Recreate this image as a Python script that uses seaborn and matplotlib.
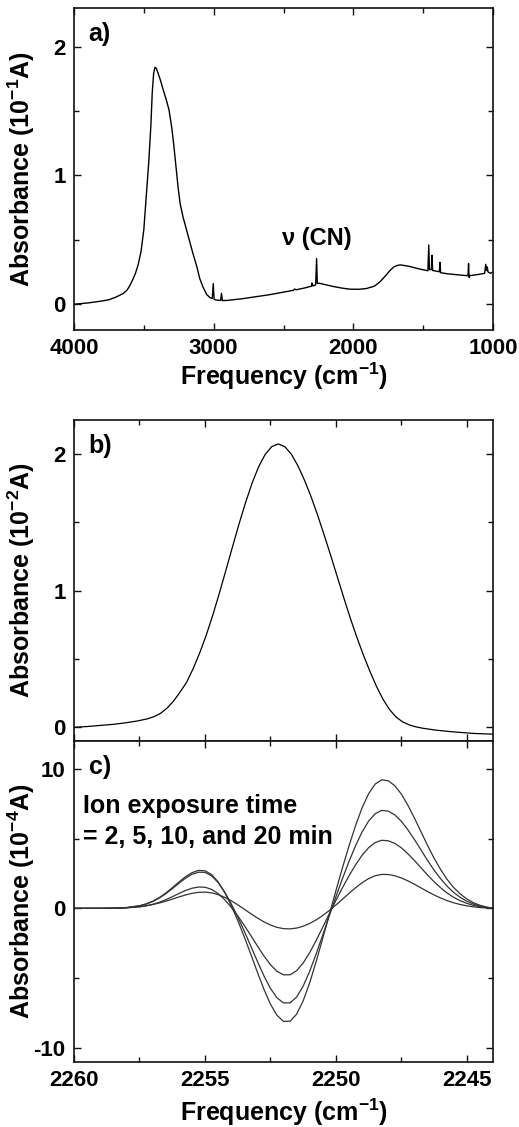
import matplotlib
matplotlib.use("Agg")
import numpy as np
import pandas as pd
import matplotlib.pyplot as plt
import seaborn as sns
from matplotlib.ticker import MultipleLocator

# --- data ---
# a) full IR spectrum, absorbance in 1e-1 A
freq_a = [4000, 3900, 3800, 3750, 3700, 3650, 3620, 3600, 3580, 3560, 3540, 3520, 3500, 3480,
          3465, 3450, 3440, 3430, 3420, 3410, 3400, 3380, 3360, 3340, 3320, 3300,
          3285, 3270, 3255, 3240, 3220, 3200, 3180, 3150, 3120, 3100, 3075, 3050,
          3025, 3010, 3003, 2997, 2980, 2950, 2944, 2938, 2900, 2800, 2700, 2600,
          2500, 2430, 2420, 2410, 2350, 2300, 2296, 2290, 2270, 2263, 2258, 2245,
          2200, 2145, 2080, 2026, 1960, 1906, 1850, 1811, 1770, 1739, 1710, 1680,
          1660, 1620, 1596, 1525, 1466, 1460, 1455, 1441, 1437, 1432, 1412, 1384,
          1380, 1375, 1330, 1286, 1200, 1179, 1175, 1171, 1165, 1100, 1060, 1052,
          1047, 1041, 1036, 1020, 1000]
abs_a = [0.000, 0.010, 0.025, 0.035, 0.055, 0.082, 0.110, 0.145, 0.190, 0.240, 0.310, 0.410, 0.580, 0.880,
         1.100, 1.380, 1.640, 1.790, 1.840, 1.830, 1.800, 1.735, 1.660, 1.590, 1.510, 1.370,
         1.230, 1.070, 0.910, 0.780, 0.680, 0.600, 0.520, 0.400, 0.290, 0.200, 0.130, 0.075,
         0.050, 0.045, 0.160, 0.038, 0.032, 0.030, 0.085, 0.028, 0.030, 0.042, 0.058, 0.074,
         0.094, 0.108, 0.118, 0.112, 0.126, 0.140, 0.165, 0.142, 0.150, 0.355, 0.162, 0.163,
         0.152, 0.138, 0.125, 0.117, 0.116, 0.122, 0.140, 0.172, 0.220, 0.260, 0.290, 0.303,
         0.305, 0.298, 0.293, 0.273, 0.260, 0.460, 0.268, 0.270, 0.380, 0.262, 0.258, 0.252,
         0.325, 0.245, 0.237, 0.232, 0.223, 0.222, 0.316, 0.208, 0.222, 0.232, 0.240, 0.310,
         0.262, 0.290, 0.252, 0.240, 0.250]

# b) CN band, absorbance in 1e-2 A
freq_b = [2260.0, 2259.5, 2259.0, 2258.5, 2258.0, 2257.6, 2257.2, 2256.95, 2256.7, 2256.45,
          2256.2, 2255.95, 2255.7, 2255.45, 2255.2, 2254.95, 2254.7, 2254.45, 2254.2, 2253.95,
          2253.7, 2253.45, 2253.2, 2252.95, 2252.7, 2252.45, 2252.2, 2251.95, 2251.7, 2251.45,
          2251.2, 2250.95, 2250.7, 2250.45, 2250.2, 2249.95, 2249.7, 2249.45, 2249.2, 2248.95,
          2248.7, 2248.45, 2248.2, 2247.95, 2247.7, 2247.45, 2247.2, 2246.95, 2246.7, 2246.2,
          2245.7, 2245.2, 2244.7, 2244.0]
abs_b = [0.000, 0.006, 0.014, 0.022, 0.034, 0.046, 0.062, 0.078, 0.102, 0.140,
         0.192, 0.258, 0.330, 0.430, 0.545, 0.675, 0.822, 0.982, 1.150, 1.320,
         1.488, 1.645, 1.788, 1.908, 1.998, 2.055, 2.075, 2.055, 2.000, 1.915,
         1.810, 1.690, 1.555, 1.410, 1.260, 1.105, 0.950, 0.800, 0.660, 0.530,
         0.410, 0.300, 0.205, 0.130, 0.075, 0.040, 0.018, 0.004, -0.006, -0.020,
         -0.030, -0.038, -0.045, -0.050]

# c) difference spectra, absorbance in 1e-4 A
freq_c = [2260, 2259.5, 2259, 2258.5, 2258, 2257.5, 2257.25, 2257, 2256.75, 2256.5,
          2256.25, 2256, 2255.75, 2255.5, 2255.25, 2255, 2254.75, 2254.5, 2254.25, 2254,
          2253.75, 2253.5, 2253.25, 2253, 2252.75, 2252.5, 2252.25, 2252, 2251.75, 2251.5,
          2251.25, 2251, 2250.75, 2250.5, 2250.25, 2250, 2249.75, 2249.5, 2249.25, 2249,
          2248.75, 2248.5, 2248.25, 2248, 2247.75, 2247.5, 2247.25, 2247, 2246.75, 2246.5,
          2246.25, 2246, 2245.75, 2245.5, 2245.25, 2245, 2244.75, 2244.5, 2244.25, 2244]
abs_c_2min = [0.000, 0.001, 0.004, 0.014, 0.044, 0.119, 0.183, 0.269, 0.380, 0.511,
              0.659, 0.812, 0.956, 1.073, 1.147, 1.164, 1.111, 0.989, 0.798, 0.549,
              0.257, -0.060, -0.382, -0.689, -0.967, -1.194, -1.362, -1.454, -1.474, -1.415,
              -1.283, -1.084, -0.822, -0.510, -0.153, 0.240, 0.652, 1.071, 1.476, 1.838,
              2.133, 2.337, 2.435, 2.426, 2.338, 2.182, 1.971, 1.728, 1.467, 1.205,
              0.961, 0.743, 0.553, 0.398, 0.274, 0.180, 0.109, 0.059, 0.025, 0.000]
abs_c_5min = [0.000, 0.000, 0.001, 0.007, 0.031, 0.105, 0.178, 0.285, 0.432, 0.616,
              0.831, 1.058, 1.273, 1.439, 1.530, 1.516, 1.364, 1.062, 0.629, 0.092,
              -0.528, -1.213, -1.942, -2.687, -3.408, -4.037, -4.510, -4.768, -4.764, -4.475,
              -3.924, -3.175, -2.290, -1.345, -0.379, 0.565, 1.472, 2.328, 3.116, 3.803,
              4.348, 4.718, 4.881, 4.845, 4.658, 4.341, 3.915, 3.430, 2.911, 2.391,
              1.906, 1.475, 1.098, 0.789, 0.544, 0.358, 0.216, 0.118, 0.049, 0.000]
abs_c_10min = [0.000, 0.000, 0.002, 0.012, 0.052, 0.177, 0.300, 0.481, 0.729, 1.039,
               1.402, 1.787, 2.150, 2.434, 2.593, 2.580, 2.340, 1.862, 1.181, 0.345,
               -0.603, -1.630, -2.705, -3.791, -4.831, -5.736, -6.413, -6.782, -6.777, -6.365,
               -5.579, -4.512, -3.251, -1.901, -0.521, 0.828, 2.128, 3.356, 4.486, 5.474,
               6.257, 6.788, 7.024, 6.972, 6.702, 6.246, 5.633, 4.935, 4.188, 3.440,
               2.742, 2.122, 1.579, 1.135, 0.783, 0.515, 0.310, 0.169, 0.071, 0.000]
abs_c_20min = [0.000, 0.000, 0.002, 0.013, 0.055, 0.187, 0.315, 0.506, 0.767, 1.092,
               1.475, 1.879, 2.259, 2.556, 2.720, 2.697, 2.431, 1.904, 1.150, 0.216,
               -0.856, -2.036, -3.287, -4.562, -5.792, -6.864, -7.669, -8.105, -8.093, -7.593,
               -6.638, -5.340, -3.801, -2.143, -0.431, 1.257, 2.901, 4.469, 5.925, 7.202,
               8.219, 8.912, 9.218, 9.148, 8.793, 8.196, 7.391, 6.475, 5.495, 4.514,
               3.598, 2.784, 2.072, 1.489, 1.027, 0.675, 0.407, 0.222, 0.093, 0.000]
exposure_min = [2, 5, 10, 20]

# --- style ---
sns.set_style("ticks")
plt.rcParams['font.family'] = ['Liberation Sans', 'DejaVu Sans']
plt.rcParams['font.weight'] = 'bold'
plt.rcParams['axes.labelweight'] = 'bold'
plt.rcParams['axes.unicode_minus'] = False
plt.rcParams['text.color'] = 'black'
plt.rcParams['axes.labelcolor'] = 'black'
plt.rcParams['xtick.color'] = 'black'
plt.rcParams['ytick.color'] = 'black'
plt.rcParams['mathtext.fontset'] = 'custom'
plt.rcParams['mathtext.rm'] = 'Liberation Sans:bold'
plt.rcParams['mathtext.bf'] = 'Liberation Sans:bold'
plt.rcParams['mathtext.default'] = 'bf'

LABEL_FS = 18
TICK_FS = 16


def style_axes(ax):
    for sp in ax.spines.values():
        sp.set_visible(True)
        sp.set_linewidth(1.2)
        sp.set_color('#111111')
    ax.tick_params(axis='both', which='both', direction='in', top=True, right=True,
                   color='#111111', labelcolor='black', width=1.0)
    ax.tick_params(axis='both', which='major', length=5, labelsize=TICK_FS, pad=6)
    ax.tick_params(axis='both', which='minor', length=3.5)
    for lab in ax.get_xticklabels() + ax.get_yticklabels():
        lab.set_fontweight('bold')


fig = plt.figure(figsize=(5.19, 11.27), dpi=100)
ax_a = fig.add_axes([0.1426, 0.7072, 0.8073, 0.2857])
ax_b = fig.add_axes([0.1426, 0.3425, 0.8073, 0.2848])
ax_c = fig.add_axes([0.1426, 0.0579, 0.8073, 0.2846])

# panel a
df_a = pd.DataFrame({'freq': freq_a, 'absorb': abs_a})
sns.lineplot(data=df_a, x='freq', y='absorb', ax=ax_a, color='black', linewidth=1.0, sort=False)
ax_a.set_xlim(4000, 1000)
ax_a.set_ylim(-0.2, 2.3)
ax_a.xaxis.set_major_locator(MultipleLocator(1000))
ax_a.xaxis.set_minor_locator(MultipleLocator(500))
ax_a.yaxis.set_major_locator(MultipleLocator(1))
ax_a.yaxis.set_minor_locator(MultipleLocator(0.5))
ax_a.set_xlabel('Frequency (cm$^{-1}$)', fontsize=LABEL_FS, labelpad=1)
ax_a.set_ylabel('Absorbance (10$^{-1}$A)', fontsize=LABEL_FS)
ax_a.text(0.035, 0.955, 'a)', transform=ax_a.transAxes, fontsize=LABEL_FS,
          fontweight='bold', va='top', ha='left')
ax_a.text(2260, 0.42, 'ν (CN)', fontsize=17, fontweight='bold', ha='center', va='bottom')
style_axes(ax_a)

# panel b
df_b = pd.DataFrame({'freq': freq_b, 'absorb': abs_b})
sns.lineplot(data=df_b, x='freq', y='absorb', ax=ax_b, color='black', linewidth=0.9, sort=False)
ax_b.set_xlim(2260, 2244)
ax_b.set_ylim(-0.1, 2.25)
ax_b.xaxis.set_major_locator(MultipleLocator(5))
ax_b.xaxis.set_minor_locator(MultipleLocator(2.5))
ax_b.yaxis.set_major_locator(MultipleLocator(1))
ax_b.yaxis.set_minor_locator(MultipleLocator(0.5))
ax_b.set_xlabel('')
ax_b.set_ylabel('Absorbance (10$^{-2}$A)', fontsize=LABEL_FS)
ax_b.text(0.035, 0.955, 'b)', transform=ax_b.transAxes, fontsize=LABEL_FS,
          fontweight='bold', va='top', ha='left')
style_axes(ax_b)
ax_b.tick_params(axis='x', which='both', labelbottom=False)

# panel c
rows = []
for minutes, vals in zip(exposure_min, [abs_c_2min, abs_c_5min, abs_c_10min, abs_c_20min]):
    for f, v in zip(freq_c, vals):
        rows.append({'freq': f, 'absorb': v, 'minutes': minutes})
df_c = pd.DataFrame(rows)
sns.lineplot(data=df_c, x='freq', y='absorb', hue='minutes', ax=ax_c,
             palette=['#333333'] * 4, linewidth=0.9, legend=False, sort=False)
ax_c.set_xlim(2260, 2244)
ax_c.set_ylim(-11, 12)
ax_c.xaxis.set_major_locator(MultipleLocator(5))
ax_c.xaxis.set_minor_locator(MultipleLocator(2.5))
ax_c.yaxis.set_major_locator(MultipleLocator(10))
ax_c.yaxis.set_minor_locator(MultipleLocator(5))
ax_c.set_xlabel('Frequency (cm$^{-1}$)', fontsize=LABEL_FS, labelpad=4)
ax_c.set_ylabel('Absorbance (10$^{-4}$A)', fontsize=LABEL_FS)
ax_c.text(0.035, 0.955, 'c)', transform=ax_c.transAxes, fontsize=LABEL_FS,
          fontweight='bold', va='top', ha='left')
ax_c.text(0.022, 0.835, 'Ion exposure time\n= 2, 5, 10, and 20 min', transform=ax_c.transAxes,
          fontsize=LABEL_FS, fontweight='bold', va='top', ha='left', linespacing=1.35)
style_axes(ax_c)

for ax in (ax_a, ax_b, ax_c):
    ax.yaxis.set_label_coords(-0.088, 0.5)

fig.savefig('out.png', dpi=100, facecolor='white')
